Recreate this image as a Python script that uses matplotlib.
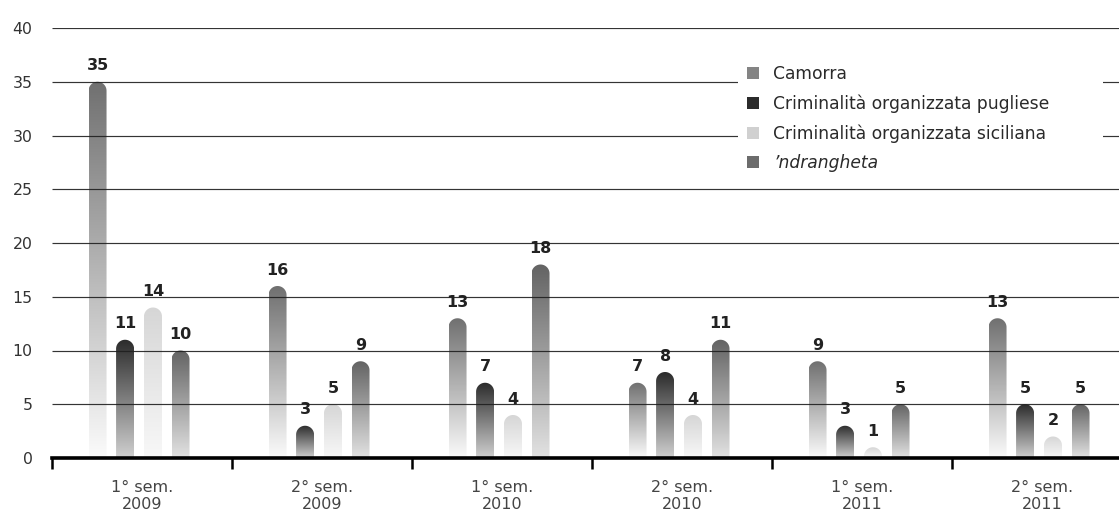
import numpy as np
import matplotlib.pyplot as plt
from matplotlib.path import Path
from matplotlib.patches import PathPatch, Patch, Rectangle
from matplotlib.colors import LinearSegmentedColormap

plt.rcParams['font.family'] = ['DejaVu Sans']

periods = ["1° sem.\n2009", "2° sem.\n2009", "1° sem.\n2010",
           "2° sem.\n2010", "1° sem.\n2011", "2° sem.\n2011"]
series = ["Camorra", "Criminalità organizzata pugliese",
          "Criminalità organizzata siciliana", "’ndrangheta"]
camorra = [35, 16, 13, 7, 9, 13]
pugliese = [11, 3, 7, 8, 3, 5]
siciliana = [14, 5, 4, 4, 1, 2]
ndrangheta = [10, 9, 18, 11, 5, 5]
values = [camorra, pugliese, siciliana, ndrangheta]
yticks = list(range(0, 41, 5))

# gradient colours: top of bar -> bottom of bar
top_colors = ['#707070', '#2b2b2b', '#d6d6d6', '#636363']
bottom_colors = ['#fbfbfb', '#d0d0d0', '#f8f8f8', '#e2e2e2']
legend_colors = ['#848484', '#2b2b2b', '#d0d0d0', '#6c6c6c']

W, H = 1119, 515
fig = plt.figure(figsize=(W / 100, H / 100), dpi=100)
ax = fig.add_axes([52 / W, 57 / H, 1067 / W, 430 / H])
xmax = 1067 / 180
ax.set_xlim(0, xmax)
ax.set_ylim(0, 40)

offsets = [-0.247, -0.094, 0.061, 0.214]
bw = 0.1
px_x = 1067 / xmax
px_y = 430 / 40
rx = bw / 2
ry = rx * px_x / px_y
theta = np.linspace(0, np.pi, 40)
grad = np.linspace(0, 1, 256).reshape(-1, 1)

for s, vals in enumerate(values):
    cmap = LinearSegmentedColormap.from_list('g%d' % s, [bottom_colors[s], top_colors[s]])
    for i, v in enumerate(vals):
        c = i + 0.5 + offsets[s]
        ys = v - ry
        verts = [(c + rx, 0), (c + rx, ys)]
        verts += list(zip(c + rx * np.cos(theta), ys + ry * np.sin(theta)))
        verts += [(c - rx, 0), (c + rx, 0)]
        codes = [Path.MOVETO] + [Path.LINETO] * (len(verts) - 2) + [Path.CLOSEPOLY]
        patch = PathPatch(Path(verts, codes), fc='none', ec='none')
        ax.add_patch(patch)
        im = ax.imshow(grad, cmap=cmap, extent=[c - rx, c + rx, 0, v], origin='lower',
                       aspect='auto', interpolation='bilinear', zorder=2)
        im.set_clip_path(patch)
        ax.annotate(str(v), (c, v), xytext=(0, 6), textcoords='offset points',
                    ha='center', va='bottom', fontsize=11.5, fontweight='bold', color='#222222')

ax.set_xlim(0, xmax)
ax.set_ylim(0, 40)

# gridlines sit on top of the bars
ax.hlines(yticks[1:], 0, xmax, colors='#1e1e1e', lw=0.85, alpha=0.9, zorder=3)
ax.set_yticks(yticks)
ax.tick_params(axis='y', length=0, pad=14, labelsize=11.3, labelcolor='#333333')

ax.set_xticks(range(6))
ax.set_xticklabels([])
ax.set_xticks(np.arange(6) + 0.5, minor=True)
ax.set_xticklabels(periods, minor=True, fontsize=11.5, color='#444444', linespacing=1.15)
ax.tick_params(axis='x', which='major', direction='out', length=8, width=1.8, color='black')
ax.tick_params(axis='x', which='minor', length=0, pad=16)

for side in ['left', 'top', 'right']:
    ax.spines[side].set_visible(False)
ax.spines['bottom'].set_linewidth(2.6)
ax.spines['bottom'].set_color('black')
ax.spines['bottom'].set_zorder(3.5)

# white box behind legend hides the gridlines
ax.add_patch(Rectangle((738 / W, 1 - 178 / H), (1103 - 738) / W, (178 - 60) / H,
                       transform=fig.transFigure, fc='white', ec='none', zorder=4))

handles = [Patch(facecolor=col, edgecolor='none') for col in legend_colors]
leg = ax.legend(handles, series, loc='upper left', bbox_to_anchor=(747 / W, 1 - 65 / H),
                bbox_transform=fig.transFigure, frameon=False, fontsize=12.3,
                handlelength=0.7, handleheight=0.7, handletextpad=0.85,
                labelspacing=0.66, borderpad=0, borderaxespad=0)
leg.set_zorder(5)
for t in leg.get_texts():
    t.set_color('#2a2a2a')
leg.get_texts()[3].set_style('italic')

fig.savefig('out.png', dpi=100, facecolor='white')
